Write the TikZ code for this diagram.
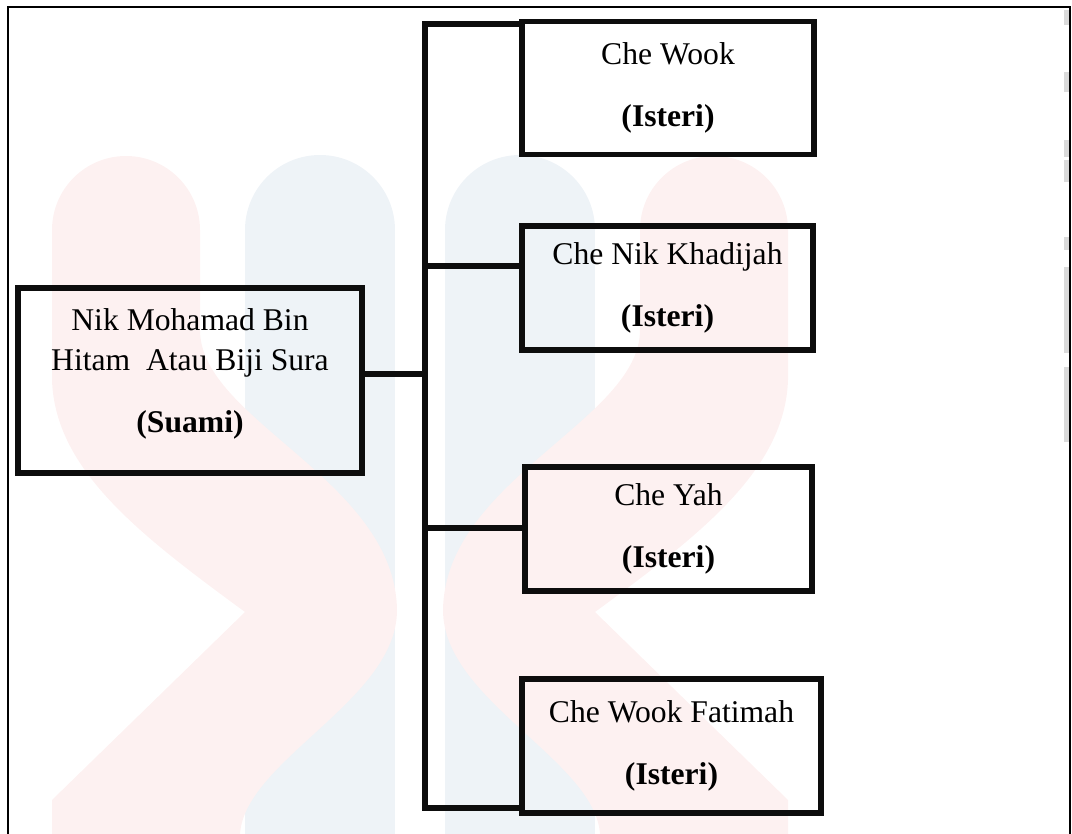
\documentclass[tikz,border=0pt]{standalone}
\usepackage{fontspec}
\setmainfont{Liberation Serif}

\definecolor{wmpink}{RGB}{253,241,241}
\definecolor{wmblue}{RGB}{238,243,247}
\definecolor{wmgray}{RGB}{218,218,218}

\tikzset{
  famBox/.style={draw=black!95, line width=3pt, align=center, inner sep=0pt,
    font=\fontsize{18}{22.7}\selectfont},
  famLine/.style={draw=black!95, line width=3pt}
}

\begin{document}
\begin{tikzpicture}[x=0.02cm,y=-0.02cm]
  \useasboundingbox (0,0) rectangle (1072,834);

  % faded logo behind the chart
  \fill[wmblue] (245,834) -- (245,230) -- (395,230) -- (395,834) -- cycle;
  \fill[wmblue] (320,230) circle [radius=75];
  \fill[wmblue] (445,834) -- (445,230) -- (595,230) -- (595,834) -- cycle;
  \fill[wmblue] (520,230) circle [radius=75];

  \fill[wmpink] (126,230) circle [radius=74];
  \fill[wmpink] (52,834) -- (52,800) -- (245,612)
    .. controls (140,535) and (55,470) .. (52,380) -- (52,230) -- (200,230) -- (200,330)
    .. controls (200,420) and (395,480) .. (397,610)
    .. controls (397,700) and (245,760) .. (240,834) -- cycle;
  \fill[wmpink] (714,230) circle [radius=74];
  \fill[wmpink] (788,834) -- (788,800) -- (595,612)
    .. controls (700,535) and (785,470) .. (788,380) -- (788,230) -- (640,230) -- (640,330)
    .. controls (640,420) and (445,480) .. (443,610)
    .. controls (443,700) and (595,760) .. (600,834) -- cycle;

  \foreach \ya/\yb in {10/25, 72/92, 140/157, 160/182, 237/250, 267/353, 367/442}
    \fill[wmgray] (1064,\ya) rectangle (1069,\yb);

  % page frame
  \draw[line width=1.1pt] (8,834) -- (8,7) -- (1070,7) -- (1070,834);

  % husband and wives
  \node[famBox, minimum width=6.88cm, minimum height=3.7cm] (suami) at (190,380.5)
    {Nik Mohamad Bin\\Hitam\ \ Atau Biji Sura\\[12.5pt]\textbf{(Suami)}\rule[-11pt]{0pt}{11pt}};
  \node[famBox, minimum width=5.84cm, minimum height=2.67cm] (w1) at (668,88)
    {Che Wook\\[12.5pt]\textbf{(Isteri)}};
  \node[famBox, minimum width=5.82cm, minimum height=2.48cm] (w2) at (667.5,288)
    {Che Nik Khadijah\\[12.5pt]\textbf{(Isteri)}};
  \node[famBox, minimum width=5.74cm, minimum height=2.48cm] (w3) at (668.5,529)
    {Che Yah\\[12.5pt]\textbf{(Isteri)}};
  \node[famBox, minimum width=5.98cm, minimum height=2.68cm] (w4) at (671.5,746)
    {Che Wook Fatimah\\[12.5pt]\textbf{(Isteri)}};

  % joints on the trunk
  \coordinate (trTop) at (425,24);
  \coordinate (trBot) at (425,808);
  \coordinate (jS) at (425,374);
  \coordinate (j2) at (425,266);
  \coordinate (j3) at (425,528);

  \draw[famLine] (w1.west |- trTop) -- (trTop) -- (trBot) -- (w4.west |- trBot);
  \draw[famLine] (suami.east |- jS) -- (jS);
  \draw[famLine] (j2) -- (w2.west |- j2);
  \draw[famLine] (j3) -- (w3.west |- j3);
\end{tikzpicture}
\end{document}
